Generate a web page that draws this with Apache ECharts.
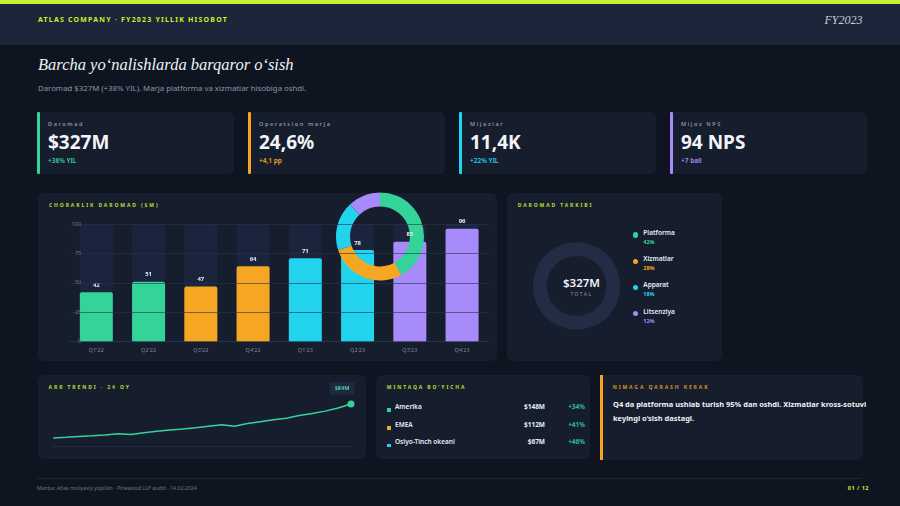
<!DOCTYPE html>
<html><head><meta charset="utf-8">
<script src="https://cdn.jsdelivr.net/npm/echarts@6/dist/echarts.min.js"></script>
<style>
html,body{margin:0;padding:0;}
body{width:900px;height:506px;background:#0f1520;position:relative;overflow:hidden;font-family:'Noto Sans',sans-serif;}
.a{position:absolute;white-space:nowrap;}
</style></head><body>
<div id="chart" class="a" style="left:0;top:0;width:900px;height:506px"></div>
<script>
// ---------- DATA ----------
const kpiLabels = ['Daromad', 'Operatsion marja', 'Mijozlar', 'Mijoz NPS'];
const kpiValues = ['$327M', '24,6%', '11,4K', '94 NPS'];
const kpiDeltas = ['+38% YIL', '+4,1 pp', '+22% YIL', '+7 ball'];

const quarters = ["Q1'22", "Q2'22", "Q3'22", "Q4'22", "Q1'23", "Q2'23", "Q3'23", "Q4'23"];
const revenue = [42, 51, 47, 64, 71, 78, 85, 96];
const revenueTicks = [0, 25, 50, 75, 100];

const mixNames = ['Platforma', 'Xizmatlar', 'Apparat', 'Litsenziya'];
const mixShare = [42, 28, 18, 12];
const mixTotal = '$327M';

const arrMonths = ['Yan 22','Fev 22','Mar 22','Apr 22','May 22','Iyn 22','Iyl 22','Avg 22','Sen 22','Okt 22','Noy 22','Dek 22',
                   'Yan 23','Fev 23','Mar 23','Apr 23','May 23','Iyn 23','Iyl 23','Avg 23','Sen 23','Okt 23','Noy 23','Dek 23'];
const arrValues = [40.2, 41.2, 42.3, 43.1, 44.2, 45.7, 44.9, 47.1, 49.1, 50.6, 51.8, 53.5,
                   55.4, 57.2, 55.5, 59.0, 61.3, 63.6, 65.7, 69.1, 71.7, 74.8, 78.8, 84];

const regionNames = ['Amerika', 'EMEA', 'Osiyo-Tinch okeani'];
const regionValues = ['$148M', '$112M', '$67M'];
const regionGrowth = ['+34%', '+41%', '+46%'];

// ---------- STYLE ----------
const LIME = '#c8f031';
const GREEN = '#34d399', ORANGE = '#f5a623', CYAN = '#22d3ee', PURPLE = '#a78bfa';
const kpiColors = [GREEN, ORANGE, CYAN, PURPLE];
const barColors = [GREEN, GREEN, ORANGE, ORANGE, CYAN, CYAN, PURPLE, PURPLE];
const mixColors = [GREEN, ORANGE, CYAN, PURPLE];
const regionColors = [GREEN, ORANGE, CYAN];

const chartDiv = document.getElementById('chart');
function box(x, y, w, h, css) {
  const d = document.createElement('div');
  d.className = 'a';
  d.style.cssText += `left:${x}px;top:${y}px;width:${w}px;height:${h}px;` + (css || '');
  document.body.insertBefore(d, chartDiv);
  return d;
}
function txt(x, cy, s, css, align) {
  const d = document.createElement('div');
  d.className = 'a';
  d.textContent = s;
  d.style.cssText += (css || '') + `;top:${cy - 10}px;height:20px;line-height:20px;`;
  if (align === 'right') d.style.right = (900 - x) + 'px';
  else if (align === 'center') { d.style.left = (x - 150) + 'px'; d.style.width = '300px'; d.style.textAlign = 'center'; }
  else d.style.left = x + 'px';
  document.body.insertBefore(d, chartDiv);
  return d;
}
const SEC = `font-size:5px;font-weight:700;letter-spacing:1.9px;color:${LIME};opacity:0.9`;

// header
box(0, 0, 900, 4, `background:${LIME}`);
box(0, 4, 900, 41, 'background:#1c2539');
txt(38, 19.5, 'ATLAS COMPANY · FY2023 YILLIK HISOBOT', `font-size:7px;font-weight:700;letter-spacing:1.2px;color:${LIME}`);
txt(862.5, 19.5, 'FY2023', "font-family:'Liberation Serif',serif;font-style:italic;font-size:12px;color:#c9ced8", 'right');
txt(38, 64.5, 'Barcha yo‘nalishlarda barqaror o‘sish', "font-family:'Liberation Serif',serif;font-style:italic;font-size:16.5px;color:#eef1f6");
txt(38, 87.7, 'Daromad $327M (+38% YIL). Marja platforma va xizmatlar hisobiga oshdi.', 'font-size:7.8px;color:#8b95a7');

// KPI cards
const cardX = [37, 248, 459, 670];
kpiLabels.forEach((lab, i) => {
  const x = cardX[i];
  box(x, 112, 197, 62, 'background:#161e2d;border-radius:0 5px 5px 0');
  box(x, 112, 3, 62, `background:${kpiColors[i]};border-radius:1px`);
  txt(x + 11, 124, lab, 'font-size:5.5px;font-weight:600;letter-spacing:1.6px;color:#8c96a8');
  txt(x + 11, 142.3, kpiValues[i], 'font-size:19px;font-weight:700;color:#f1f4f8');
  txt(x + 11, 160.7, kpiDeltas[i], `font-size:6.5px;font-weight:600;color:${kpiColors[i]}`);
});

// panels
box(38, 193, 459, 168, 'background:#161e2d;border-radius:6px');
box(507, 193, 215, 168, 'background:#161e2d;border-radius:6px');
box(38, 375, 328, 84, 'background:#161e2d;border-radius:6px');
box(376, 375, 214, 84, 'background:#161e2d;border-radius:6px');
box(600, 375, 263, 85, 'background:#161e2d;border-radius:0 6px 6px 0');
box(600, 375, 3, 85, `background:${ORANGE}`);

txt(49, 205, 'CHORAKLIK DAROMAD ($M)', SEC);
txt(517.7, 205, 'DAROMAD TARKIBI', SEC);
txt(48.6, 387.3, 'ARR TRENDI · 24 OY', SEC);
txt(386.8, 387.3, 'MINTAQA BO‘YICHA', SEC);
txt(612.7, 387.3, 'NIMAGA QARASH KERAK', `font-size:5px;font-weight:700;letter-spacing:1.9px;color:${ORANGE};opacity:0.85`);

// composition centre + legend
txt(581.5, 283.3, mixTotal, 'font-size:11.5px;font-weight:600;color:#f1f4f8', 'center');
txt(581.5, 294, 'TOTAL', 'font-size:5px;letter-spacing:1.5px;color:#8c96a8', 'center');
mixNames.forEach((n, i) => {
  const y0 = 232.7 + i * 26.3;
  box(635.7 - 2.6, y0 + 2.3 - 2.6, 5.2, 5.2, `background:${mixColors[i]};border-radius:50%`);
  txt(643.3, y0, n, 'font-size:6.5px;font-weight:600;color:#e8ecf3');
  txt(643.3, y0 + 9, mixShare[i] + '%', `font-size:5.5px;font-weight:700;color:${mixColors[i]}`);
});

// regions
regionNames.forEach((n, i) => {
  const y = 406.7 + i * 17.8;
  box(386.8, y + 1.3, 3.8, 3.8, `background:${regionColors[i]}`);
  txt(395, y, n, 'font-size:6.5px;font-weight:600;color:#e8ecf3');
  txt(545, y, regionValues[i], 'font-size:6.5px;font-weight:700;color:#e8ecf3', 'right');
  txt(585, y, regionGrowth[i], `font-size:6.5px;font-weight:600;color:${GREEN}`, 'right');
});

// insight
txt(613, 404.3, 'Q4 da platforma ushlab turish 95% dan oshdi. Xizmatlar kross-sotuvi', 'font-size:7.45px;font-weight:700;color:#eef1f6');
txt(613, 417.7, 'keyingi o‘sish dastagi.', 'font-size:7.45px;font-weight:700;color:#eef1f6');

// footer
box(37, 478, 825, 1, 'background:#1c2536');
txt(37, 488.3, 'Manba: Atlas moliyaviy yopilish · Pinewood LLP auditi · 14.02.2024', 'font-size:5.2px;color:#6b7588');
txt(869, 488.3, '01 / 12', `font-size:5.5px;font-weight:700;letter-spacing:0.5px;color:${LIME}`, 'right');

// ---------- CHART ----------
const chart = echarts.init(chartDiv, null, { renderer: 'canvas' });
const lastIdx = arrValues.length - 1;
const arrData = arrValues.map((v, i) => i === lastIdx ? {
  value: v, symbol: 'circle', symbolSize: 7,
  label: { show: true, position: 'top', offset: [-9, -1], formatter: '$' + Math.round(v) + 'M',
           backgroundColor: '#1e2a40', padding: [3, 5], color: '#4fd1a5', fontSize: 5.5, fontWeight: 'bold',
           fontFamily: 'Noto Sans' }
} : { value: v, symbolSize: 0 });

chart.setOption({
  backgroundColor: 'transparent',
  animation: false,
  textStyle: { fontFamily: 'Noto Sans' },
  grid: [
    { left: 70.2, width: 418, top: 224, height: 117.7 },
    { left: 53.3, width: 297.7, top: 399.3, height: 46.7 }
  ],
  xAxis: [
    { type: 'category', gridIndex: 0, data: quarters,
      axisLine: { lineStyle: { color: '#263149' } }, axisTick: { show: false },
      axisLabel: { color: '#7d879a', fontSize: 5.5, margin: 6 } },
    { type: 'category', gridIndex: 1, data: arrMonths, boundaryGap: false,
      axisLine: { lineStyle: { color: '#232d42' } }, axisTick: { show: false }, axisLabel: { show: false } }
  ],
  yAxis: [
    { type: 'value', gridIndex: 0, min: revenueTicks[0], max: revenueTicks[revenueTicks.length - 1], interval: 25, z: 3,
      axisLine: { show: false }, axisTick: { show: false },
      axisLabel: { color: '#6b7588', fontSize: 5.5, margin: -11 },
      splitLine: { lineStyle: { color: 'rgba(40,52,78,0.6)', width: 1 } } },
    { type: 'value', gridIndex: 1, min: 30, max: 90, show: false, splitLine: { show: false } }
  ],
  series: [
    { type: 'bar', xAxisIndex: 0, yAxisIndex: 0, data: revenue, barWidth: 33,
      itemStyle: { color: p => barColors[p.dataIndex], borderRadius: [2, 2, 1, 1] },
      showBackground: true, backgroundStyle: { color: 'rgba(35,48,88,0.35)', borderRadius: 2 },
      label: { show: true, position: 'top', distance: 4, color: '#e8ecf3', fontSize: 6, fontWeight: 'bold' } },
    { type: 'pie', center: [380, 236.5], radius: [30, 44], startAngle: 90, clockwise: true, silent: true,
      label: { show: false }, labelLine: { show: false },
      data: mixNames.map((n, i) => ({ name: n, value: mixShare[i], itemStyle: { color: mixColors[i] } })) },
    { type: 'pie', center: [576.5, 286], radius: [30, 43.7], silent: true, data: [],
      showEmptyCircle: true, emptyCircleStyle: { color: '#222d45' }, label: { show: false } },
    { type: 'line', xAxisIndex: 1, yAxisIndex: 1, data: arrData, symbol: 'circle', showSymbol: true,
      lineStyle: { color: GREEN, width: 1.5 }, itemStyle: { color: GREEN } }
  ]
});
</script>
</body></html>
